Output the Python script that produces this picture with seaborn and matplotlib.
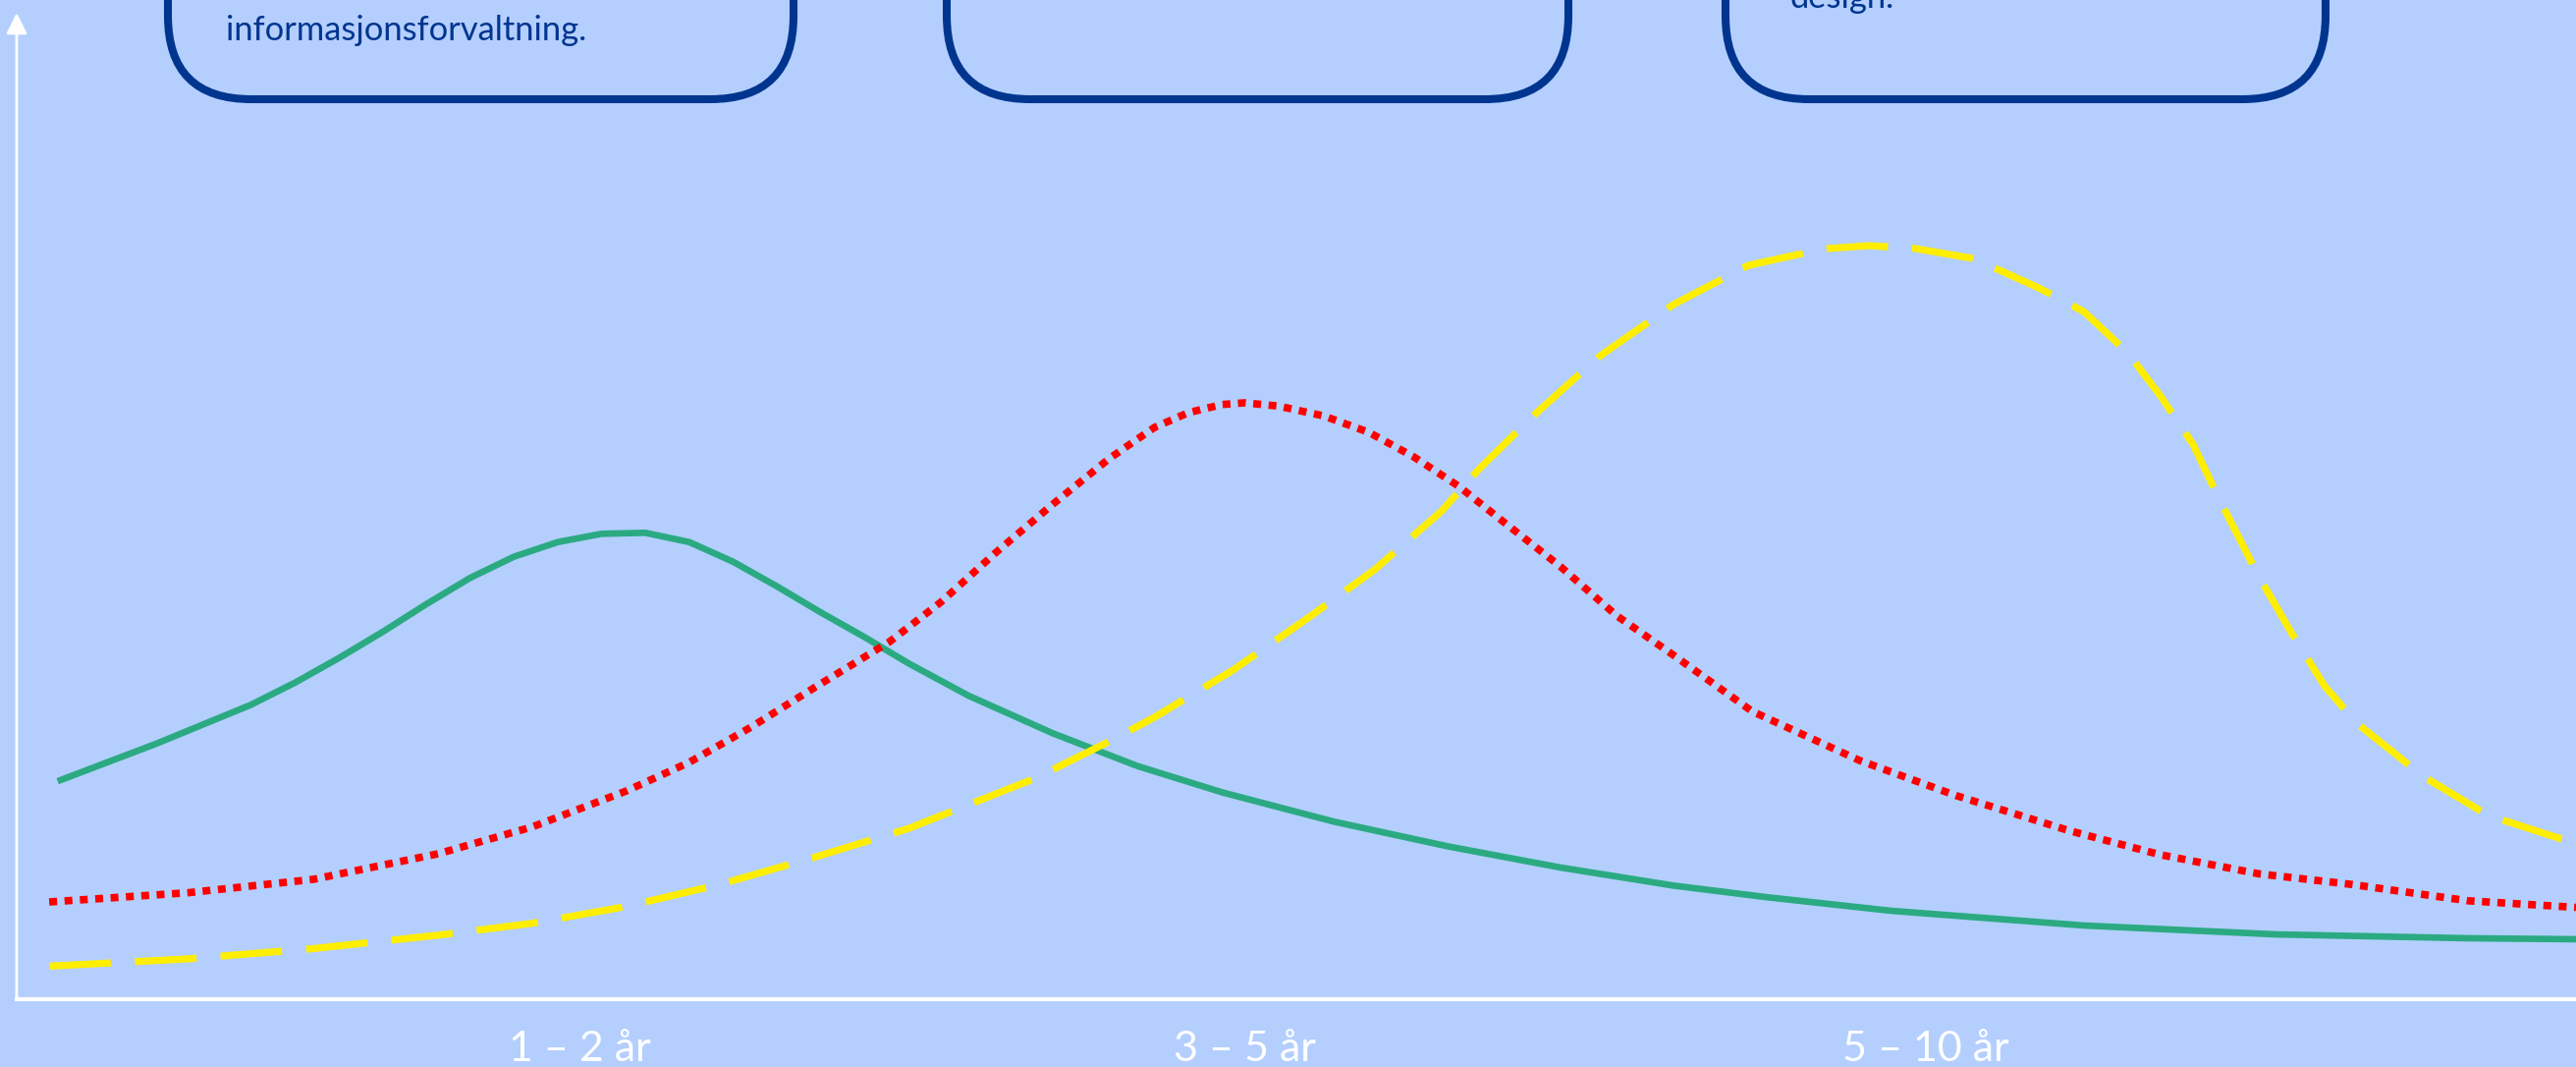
import matplotlib
matplotlib.use("Agg")
import matplotlib.pyplot as plt
from matplotlib.patches import FancyBboxPatch
import pandas as pd
import seaborn as sns

# Curves (x: 0-100 across the axis, y: 0-100 up the axis)
green_x = [1.60, 5.45, 9.13, 10.86, 12.57, 14.29, 16.00, 17.71, 19.42, 21.14, 22.85, 24.56,
           26.28, 27.99, 29.70, 31.42, 33.12, 34.84, 37.19, 40.49, 43.80, 47.10, 51.50, 55.91,
           60.32, 64.73, 68.42, 73.25, 80.78, 88.28, 95.78, 100.0]
green_y = [22.10, 25.90, 29.82, 32.07, 34.56, 37.22, 40.04, 42.70, 44.85, 46.34, 47.18, 47.28,
           46.34, 44.35, 41.86, 39.21, 36.72, 34.06, 30.77, 26.95, 23.63, 20.97, 17.98, 15.50,
           13.35, 11.52, 10.33, 8.96, 7.47, 6.57, 6.18, 6.08]

red_x = [1.27, 6.68, 11.59, 16.46, 20.15, 23.83, 26.27, 28.70, 31.16, 34.10, 36.09, 38.29,
         40.48, 42.69, 44.46, 45.78, 47.10, 47.98, 49.30, 51.07, 52.83, 54.59, 56.35, 58.12,
         60.32, 62.52, 64.73, 67.81, 72.01, 75.77, 80.19, 83.77, 87.61, 91.19, 95.78, 100.0]
red_y = [9.86, 10.79, 12.15, 14.74, 17.47, 21.12, 24.00, 27.59, 31.57, 36.23, 40.21, 45.35,
         50.17, 54.81, 57.97, 59.46, 60.29, 60.46, 60.13, 59.13, 57.47, 54.98, 51.99, 48.34,
         43.86, 38.87, 34.89, 29.18, 24.20, 20.65, 17.09, 14.64, 12.71, 11.65, 9.98, 9.31]

yellow_x = [1.27, 6.68, 11.59, 16.46, 20.15, 23.83, 27.49, 31.16, 34.84, 39.83, 42.77, 44.46,
            47.54, 50.40, 53.05, 55.68, 57.10, 59.25, 61.81, 64.73, 67.67, 70.61, 72.37, 74.14,
            76.48, 79.03, 80.77, 82.49, 83.77, 85.05, 86.07, 87.61, 88.89, 90.17, 91.44, 92.73,
            94.01, 96.57, 100.0]
yellow_y = [3.35, 4.09, 5.13, 6.49, 7.70, 9.41, 11.65, 14.38, 17.30, 22.43, 26.24, 28.59,
            33.40, 38.55, 43.53, 49.50, 53.65, 59.13, 65.11, 70.42, 74.40, 76.07, 76.39, 76.12,
            75.07, 72.08, 69.70, 65.51, 61.13, 56.18, 50.64, 42.83, 37.11, 31.77, 27.96, 25.30,
            22.62, 18.63, 15.77]

period_labels = ["1 \u2013 2 år", "3 \u2013 5 år", "5 \u2013 10 år"]
period_pos = [22.0, 48.0, 74.6]

box_texts = ["informasjonsforvaltning.", "", "design."]

bg = "#B4CFFE"
navy = "#00358F"

sns.set_theme(style="white")
plt.rcParams["font.family"] = ["Lato", "DejaVu Sans"]

W, H = 2623, 1086
fig = plt.figure(figsize=(W / 100, H / 100), dpi=100, facecolor=bg)
ax = fig.add_axes([17 / W, (H - 1017) / H, (W - 17) / W, (1017 - 13) / H])
ax.set_facecolor(bg)

df_g = pd.DataFrame({"x": green_x, "y": green_y})
df_r = pd.DataFrame({"x": red_x, "y": red_y})
df_y = pd.DataFrame({"x": yellow_x, "y": yellow_y})

sns.lineplot(data=df_g, x="x", y="y", ax=ax, color="#2BAA82", linewidth=4.8,
             solid_capstyle="butt", solid_joinstyle="round")
sns.lineplot(data=df_r, x="x", y="y", ax=ax, color="#FF0000", linewidth=5.5,
             linestyle=(0, (1.05, 1.0)))
sns.lineplot(data=df_y, x="x", y="y", ax=ax, color="#FFEE00", linewidth=5.2,
             linestyle=(0, (8.7, 3.4)))

ax.set_xlim(0, 100)
ax.set_ylim(0, 100)
ax.set_xlabel("")
ax.set_ylabel("")
ax.set_yticks([])
ax.set_xticks(period_pos)
ax.set_xticklabels(period_labels, color="white", fontsize=31)
ax.tick_params(axis="x", length=0, pad=23)

for side in ["top", "right", "left"]:
    ax.spines[side].set_visible(False)
ax.spines["bottom"].set_color("white")
ax.spines["bottom"].set_linewidth(3.0)

# vertical axis with arrow head
ax.annotate("", xy=(0, 1.0), xytext=(0, 0), xycoords="axes fraction",
            arrowprops=dict(arrowstyle="-|>", color="white", lw=2.0,
                            mutation_scale=32, shrinkA=0, shrinkB=0),
            annotation_clip=False)

# overlay for the rounded boxes at the top (pixel units)
top = fig.add_axes([0, 0, 1, 1], facecolor="none")
top.set_xlim(0, W)
top.set_ylim(H, 0)
top.axis("off")

box_left = [167, 960, 1753]
box_right = [812, 1601, 2372]
for i in range(3):
    patch = FancyBboxPatch((box_left[i] + 4, -300), box_right[i] - box_left[i] - 8, 401,
                           boxstyle="round,pad=0,rounding_size=85",
                           facecolor="none", edgecolor=navy, linewidth=5.8)
    top.add_patch(patch)

top.text(230, 41, box_texts[0], color=navy, fontsize=24.8, va="baseline", ha="left")
top.text(1823, 8, box_texts[2], color=navy, fontsize=24.8, va="baseline", ha="left")

fig.savefig("out.png", dpi=100, facecolor=bg)
